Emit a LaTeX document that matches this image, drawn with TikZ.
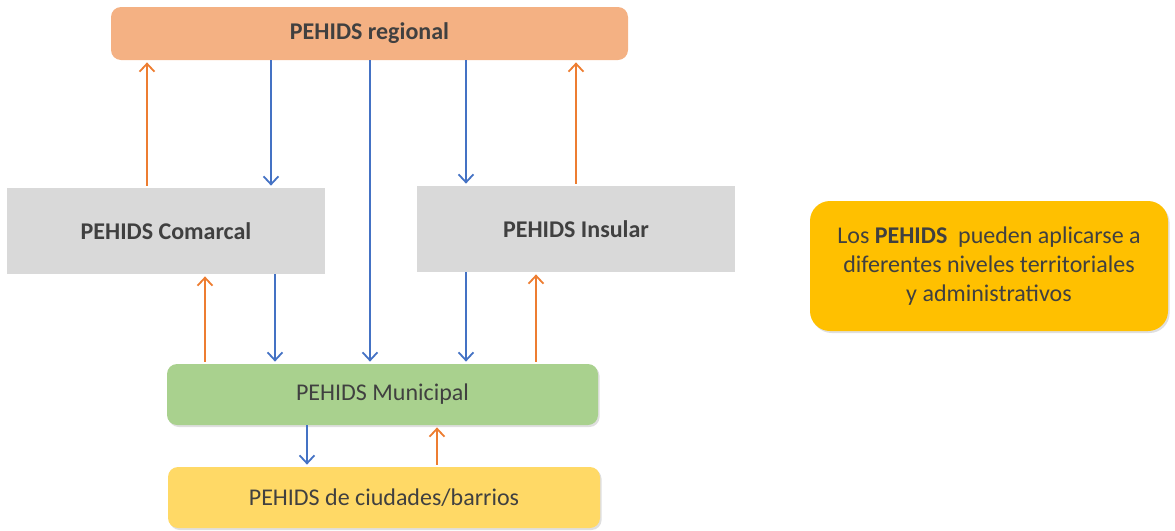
\documentclass[tikz,border=0pt]{standalone}
\usepackage{fontspec}
\setmainfont{Carlito}
\usepackage{xcolor}
\usetikzlibrary{arrows.meta,shadows}

\definecolor{txtgrey}{HTML}{404040}
\definecolor{regfill}{HTML}{F4B183}
\definecolor{greyfill}{HTML}{D9D9D9}
\definecolor{munfill}{HTML}{A9D18E}
\definecolor{ciufill}{HTML}{FFD966}
\definecolor{notefill}{HTML}{FFC000}
\definecolor{uporange}{HTML}{ED7D31}
\definecolor{downblue}{HTML}{4472C4}

\begin{document}
\begin{tikzpicture}[x=0.5pt, y=-0.5pt,
  box/.style={rectangle, inner sep=0pt, text=txtgrey, font=\fontsize{12}{14.5}\selectfont},
  boldbox/.style={box, font=\fontsize{12}{14.5}\selectfont\bfseries},
  shade/.style={drop shadow={opacity=0.25, shadow xshift=0.8pt, shadow yshift=-1pt}},
  up/.style={-{Straight Barb[length=4pt, width=7.5pt]}, line width=0.9pt, draw=uporange, shorten <=1pt, shorten >=1pt},
  down/.style={-{Straight Barb[length=4pt, width=7.5pt]}, line width=0.9pt, draw=downblue, shorten >=1pt}]

\useasboundingbox (0,0) rectangle (1175,531);

% Nodes
\node[boldbox, fill=regfill, rounded corners=5pt, minimum width=258.5pt, minimum height=26.5pt] at (369.5, 33.5) (reg) {PEHIDS regional} ;
\node[boldbox, fill=greyfill, minimum width=159pt, minimum height=43pt] at (166, 231) (com) {PEHIDS Comarcal} ;
\node[boldbox, fill=greyfill, minimum width=159pt, minimum height=43pt] at (576, 229) (ins) {PEHIDS Insular} ;
\node[box, shade, fill=munfill, rounded corners=5pt, minimum width=215.5pt, minimum height=30.5pt] at (382.5, 394.5) (mun) {PEHIDS Municipal} ;
\node[box, shade, fill=ciufill, rounded corners=5pt, minimum width=216pt, minimum height=30.5pt] at (384, 497.5) (ciu) {PEHIDS de ciudades/barrios} ;
\node[box, shade, fill=notefill, rounded corners=10pt, minimum width=179pt, minimum height=65pt, align=center] at (989, 266) (note)
  {Los \textbf{PEHIDS}\ \ pueden\ aplicarse\ a\\ diferentes\ niveles\ territoriales\\ y administrativos} ;

% Lines
\draw[up] (com.north -| 147,0) -- (reg.south -| 147,0) ;
\draw[down] (reg.south -| 271,0) -- (com.north -| 271,0) ;
\draw[down] (reg.south -| 370,0) -- (mun.north -| 370,0) ;
\draw[down] (reg.south -| 466,0) -- (ins.north -| 466,0) ;
\draw[up] (ins.north -| 576,0) -- (reg.south -| 576,0) ;
\draw[up] (mun.north -| 205,0) -- (com.south -| 205,0) ;
\draw[down] (com.south -| 275,0) -- (mun.north -| 275,0) ;
\draw[down] (ins.south -| 466,0) -- (mun.north -| 466,0) ;
\draw[up] (mun.north -| 536,0) -- (ins.south -| 536,0) ;
\draw[down] (mun.south -| 307,0) -- (ciu.north -| 307,0) ;
\draw[up] (ciu.north -| 437,0) -- (mun.south -| 437,0) ;

\end{tikzpicture}
\end{document}
